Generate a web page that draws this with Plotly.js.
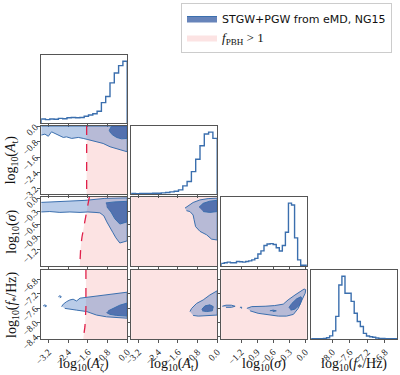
<!DOCTYPE html>
<html><head><meta charset="utf-8">
<script src="https://cdn.plot.ly/plotly-3.0.1.min.js"></script>
<style>html,body{margin:0;padding:0;background:#fff}</style>
</head><body><div id="chart" style="width:400px;height:375px"></div>
<script>
// ---------- axis ranges & ticks ----------
const rangeAc = [-3.5, 0];
const rangeAt = [-3.5, 0];
const rangeSigma = [-1.57, 0.03];
const rangeFstar = [-8.48, -6.52];
const ticksA = [-3.2, -2.4, -1.6, -0.8, 0.0];
const tickTextA = ["−3.2", "−2.4", "−1.6", "−0.8", "0.0"];
const ticksSigma = [-1.2, -0.9, -0.6, -0.3, 0.0];
const tickTextSigma = ["−1.2", "−0.9", "−0.6", "−0.3", "0.0"];
const ticksFstarX = [-8.0, -7.6, -7.2, -6.8];
const tickTextFstarX = ["−8.0", "−7.6", "−7.2", "−6.8"];
const ticksFstarY = [-8.4, -8.0, -7.6, -7.2, -6.8];
const tickTextFstarY = ["−8.4", "−8.0", "−7.6", "−7.2", "−6.8"];

// ---------- axis titles & legend labels ----------
const titleAc = "log<sub>10</sub>(<i>A</i><sub>ζ</sub>)";
const titleAt = "log<sub>10</sub>(<i>A</i><sub>t</sub>)";
const titleSigma = "log<sub>10</sub>(<i>σ</i>)";
const titleFstar = "log<sub>10</sub>(<i>f</i><sub>*</sub>/Hz)";
const legendPosterior = "STGW+PGW from eMD, NG15";
const legendPBH = "<span style=\"font-family:'Liberation Serif',serif;font-size:13px\"><i>f</i><sub>PBH</sub> > 1</span>";

// ---------- 1D histograms (normalised heights) ----------
const histAc = [0.065, 0.054, 0.065, 0.06, 0.075, 0.07, 0.086, 0.09, 0.086, 0.09, 0.11, 0.13, 0.15, 0.19, 0.33, 0.43, 0.65, 0.81, 0.93, 1.0];
const histAt = [0.005, 0.004, 0.006, 0.007, 0.008, 0.009, 0.011, 0.016, 0.022, 0.032, 0.043, 0.065, 0.13, 0.2, 0.36, 0.56, 0.78, 0.97, 1.0, 0.9];
const histSigma = [0.04, 0.05, 0.06, 0.05, 0.05, 0.07, 0.065, 0.06, 0.07, 0.08, 0.095, 0.12, 0.19, 0.24, 0.326, 0.35, 0.355, 0.34, 0.29, 0.237, 0.326, 0.537, 1.0, 0.97, 0.447, 0.095, 0.01, 0.01];
const histFstar = [0.004, 0.004, 0.005, 0.006, 0.008, 0.02, 0.05, 0.13, 0.36, 0.86, 1.0, 0.73, 0.73, 0.6, 0.41, 0.28, 0.2, 0.09, 0.048, 0.035, 0.027, 0.015, 0.01, 0.008, 0.005, 0.004, 0.003, 0.003];

// ---------- 2D credible regions (outer = 2sigma, inner = 1sigma) ----------
// log10(At) vs log10(Ac)
const outerAtAc_x = [-3.5, 0, 0, -0.16, -0.43, -0.7, -0.98, -1.25, -1.52, -1.63, -1.79, -1.99, -2.26, -2.47, -2.6, -2.81, -2.94, -3.08, -3.21, -3.35, -3.5];
const outerAtAc_y = [0, 0, -1.33, -1.27, -1.15, -1.07, -0.9, -0.82, -0.76, -0.69, -0.64, -0.59, -0.64, -0.56, -0.59, -0.47, -0.39, -0.3, -0.53, -0.42, -0.47];
const innerAtAc_x = [-0.635, -0.73, -0.68, -0.6, -0.43, -0.23, 0, 0];
const innerAtAc_y = [0, -0.22, -0.35, -0.45, -0.59, -0.66, -0.64, 0];
// log10(sigma) vs log10(Ac)
const outerSAc_x = [-3.5, -2.94, -2.33, -1.72, -1.31, -0.91, 0, 0, -0.30, -0.46, -0.58, -0.70, -0.83, -0.95, -1.11, -1.31, -1.60, -1.92, -2.33, -2.74, -3.15, -3.5];
const outerSAc_y = [-0.098, -0.086, -0.074, -0.051, -0.028, -0.005, 0.007, -0.99, -1.04, -0.92, -0.80, -0.69, -0.55, -0.41, -0.34, -0.33, -0.32, -0.33, -0.32, -0.33, -0.31, -0.32];
const innerSAc_x = [-0.87, -0.50, 0, 0, -0.30, -0.50, -0.66, -0.83];
const innerSAc_y = [-0.11, -0.086, -0.074, -0.55, -0.60, -0.48, -0.32, -0.20];
// log10(sigma) vs log10(At)
const outerSAt_x = [-1.31, -1.18, -0.98, -0.70, -0.37, 0, 0, -0.23, -0.43, -0.70, -0.88, -0.94, -0.98, -1.11, -1.25];
const outerSAt_y = [-0.23, -0.18, -0.10, -0.04, -0.01, 0.0, -0.97, -0.95, -0.85, -0.77, -0.66, -0.50, -0.39, -0.31, -0.29];
const innerSAt_x = [-0.74, -0.57, -0.30, 0, 0, -0.30, -0.57];
const innerSAt_y = [-0.21, -0.12, -0.07, -0.05, -0.31, -0.33, -0.31];
// log10(f*) vs log10(Ac)
const outerFAc_x = [-2.67, -2.60, -2.47, -2.33, -2.20, -2.06, -1.92, -1.72, -1.52, -1.11, -0.70, -0.30, 0, 0, -0.43, -0.84, -1.25, -1.65, -2.06, -2.33, -2.54];
const outerFAc_y = [-7.56, -7.49, -7.42, -7.37, -7.35, -7.40, -7.32, -7.30, -7.28, -7.26, -7.21, -7.16, -7.15, -7.89, -7.87, -7.85, -7.80, -7.70, -7.66, -7.64, -7.61];
const islandFAc1_x = [-2.80, -2.74, -2.68, -2.74];
const islandFAc1_y = [-7.28, -7.25, -7.28, -7.31];
const islandFAc2_x = [-3.42, -3.35, -3.28, -3.35];
const islandFAc2_y = [-7.54, -7.51, -7.54, -7.57];
const innerFAc_x = [-0.77, -0.57, -0.30, 0, 0, -0.43, -0.70, -0.84];
const innerFAc_y = [-7.68, -7.61, -7.52, -7.46, -7.83, -7.81, -7.78, -7.73];
// log10(f*) vs log10(At)
const outerFAt_x = [-1.11, -1.04, -0.84, -0.57, -0.30, -0.09, 0, 0, -0.23, -0.50, -0.77, -0.98];
const outerFAt_y = [-7.70, -7.61, -7.47, -7.37, -7.23, -7.14, -7.11, -7.80, -7.81, -7.83, -7.83, -7.81];
const innerFAt_x = [-0.63, -0.5, -0.3, -0.16, -0.2, -0.43, -0.61];
const innerFAt_y = [-7.64, -7.54, -7.51, -7.56, -7.68, -7.70, -7.68];
// log10(f*) vs log10(sigma)
const outerFS_x = [-1.09, -1.0, -0.75, -0.57, -0.41, -0.32, -0.19, -0.08, -0.02, 0.01, 0.0, -0.06, -0.13, -0.22, -0.35, -0.50, -0.69, -0.88, -1.03];
const outerFS_y = [-7.61, -7.56, -7.55, -7.53, -7.49, -7.37, -7.23, -7.12, -7.06, -7.08, -7.18, -7.37, -7.61, -7.78, -7.83, -7.83, -7.80, -7.75, -7.68];
const islandFS1_x = [-1.55, -1.48, -1.38, -1.31, -1.38, -1.48];
const islandFS1_y = [-7.55, -7.52, -7.52, -7.55, -7.58, -7.58];
const islandFS2_x = [-1.22, -1.2, -1.18, -1.2];
const islandFS2_y = [-7.59, -7.57, -7.59, -7.61];
const innerFS_x = [-0.305, -0.25, -0.16, -0.08, -0.06, -0.1, -0.19, -0.27];
const innerFS_y = [-7.59, -7.47, -7.34, -7.28, -7.34, -7.51, -7.63, -7.66];
const innerFS2_x = [-0.66, -0.6, -0.54, -0.6];
const innerFS2_y = [-7.68, -7.66, -7.68, -7.70];

// ---------- f_PBH = 1 boundary (dashed) ----------
const pbhAt_ac = [-1.65, -1.65, -1.65];
const pbhAt_at = [0, -1.75, -3.5];
const pbhSigma_ac = [-1.54, -1.62, -1.70, -1.78, -1.84, -1.89, -1.92, -1.93];
const pbhSigma_s = [0.03, -0.20, -0.43, -0.67, -0.90, -1.13, -1.36, -1.57];
const pbhF_ac = [-1.68, -1.68, -1.72, -1.79];
const pbhF_f = [-6.52, -7.6, -8.13, -8.48];

// ---------- styling ----------
const SERIF = "Liberation Serif, DejaVu Serif, serif";
const BLUE = "#3b6fae";
const OUTER_FILL = "rgba(60,115,190,0.36)";
const INNER_FILL = "rgba(45,85,160,0.72)";
const PINK = "rgba(240,128,128,0.22)";
const colDom = [[0.103, 0.318], [0.328, 0.543], [0.553, 0.767], [0.778, 0.993]];
const rowDom = [[0.672, 0.853], [0.483, 0.664], [0.291, 0.475], [0.096, 0.28]];

const params = [
  {range: rangeAc, xt: ticksA, xtt: tickTextA, yt: ticksA, ytt: tickTextA, title: titleAc, hist: histAc},
  {range: rangeAt, xt: ticksA, xtt: tickTextA, yt: ticksA, ytt: tickTextA, title: titleAt, hist: histAt},
  {range: rangeSigma, xt: ticksSigma, xtt: tickTextSigma, yt: ticksSigma, ytt: tickTextSigma, title: titleSigma, hist: histSigma},
  {range: rangeFstar, xt: ticksFstarX, xtt: tickTextFstarX, yt: ticksFstarY, ytt: tickTextFstarY, title: titleFstar, hist: histFstar}
];

const layout = {
  width: 400, height: 375,
  margin: {l: 0, r: 0, t: 0, b: 0, autoexpand: false},
  paper_bgcolor: "#fff", plot_bgcolor: "rgba(0,0,0,0)",
  showlegend: true,
  legend: {x: 0.98, y: 0.992, xanchor: "right", yanchor: "top", bgcolor: "#fff",
           bordercolor: "#cccccc", borderwidth: 1, font: {family: "DejaVu Sans, sans-serif", size: 11, color: "#111"},
           itemwidth: 30, tracegroupgap: 0},
  shapes: [],
  annotations: []
};
const traces = [];
const frame = {showline: true, linecolor: "#555", linewidth: 1, mirror: true, showgrid: false, zeroline: false,
               automargin: false, ticks: "outside", ticklen: 3, tickwidth: 1, tickcolor: "#555",
               tickfont: {family: SERIF, size: 9.5, color: "#222"}};

function poly(xs, ys, fill, ax, opts) {
  traces.push(Object.assign({type: "scatter", mode: "lines", x: xs, y: ys, fill: "toself", fillcolor: fill,
    line: {color: BLUE, width: 1}, xaxis: ax.x, yaxis: ax.y, showlegend: false, hoverinfo: "skip"}, opts || {}));
}

let n = 0;
const axesOf = {};
for (let row = 0; row < 4; row++) {
  for (let col = 0; col <= row; col++) {
    n++;
    const sfx = n === 1 ? "" : String(n);
    const px = params[col], py = params[row];
    const xa = Object.assign({}, frame, {domain: colDom[col], anchor: "y" + sfx, range: px.range,
      tickmode: "array", tickvals: px.xt, ticktext: px.xtt, showticklabels: row === 3, tickangle: -45});
    let ya;
    if (row === col) {
      const m = Math.max.apply(null, px.hist);
      ya = Object.assign({}, frame, {domain: rowDom[row], anchor: "x" + sfx, range: [0, 1.1 * m],
        showticklabels: false, ticks: ""});
      const nb = px.hist.length, w = (px.range[1] - px.range[0]) / nb;
      const hx = [px.range[0]], hy = [0];
      for (let i = 0; i < nb; i++) { hx.push(px.range[0] + i * w); hy.push(px.hist[i]); }
      hx.push(px.range[1]); hy.push(px.hist[nb - 1]);
      hx.push(px.range[1]); hy.push(0);
      traces.push({type: "scatter", mode: "lines", x: hx, y: hy, line: {color: BLUE, width: 1.4, shape: "hv"},
        xaxis: "x" + sfx, yaxis: "y" + sfx, showlegend: false, hoverinfo: "skip"});
    } else {
      ya = Object.assign({}, frame, {domain: rowDom[row], anchor: "x" + sfx, range: py.range,
        tickmode: "array", tickvals: py.yt, ticktext: py.ytt, showticklabels: col === 0, tickangle: -45});
    }
    layout["xaxis" + sfx] = xa;
    layout["yaxis" + sfx] = ya;
    axesOf[row + "," + col] = {x: "x" + sfx, y: "y" + sfx, sfx: sfx};
  }
}

// axis titles as annotations (under the columns / beside the rows)
params.forEach(function (p, i) {
  layout.annotations.push({text: p.title, xref: "paper", yref: "paper",
    x: (colDom[i][0] + colDom[i][1]) / 2, y: 0.027, xanchor: "center", yanchor: "middle",
    showarrow: false, font: {family: SERIF, size: 14, color: "#111"}});
  if (i > 0) layout.annotations.push({text: p.title, xref: "paper", yref: "paper",
    x: 0.031, y: (rowDom[i][0] + rowDom[i][1]) / 2, xanchor: "center", yanchor: "middle", textangle: -90,
    showarrow: false, font: {family: SERIF, size: 14, color: "#111"}});
});

// pink f_PBH > 1 regions
function pinkFromBoundary(bx, by, ax, xmax) {
  const xs = bx.concat([xmax, xmax]);
  const ys = by.concat([by[by.length - 1], by[0]]);
  traces.push({type: "scatter", mode: "lines", x: xs, y: ys, fill: "toself", fillcolor: PINK,
    line: {width: 0, color: "rgba(0,0,0,0)"}, xaxis: ax.x, yaxis: ax.y, hoverinfo: "skip", showlegend: false});
}
function pinkFull(ax) {
  layout.shapes.push({type: "rect", xref: ax.x + " domain", yref: ax.y + " domain", x0: 0, x1: 1, y0: 0, y1: 1,
    fillcolor: PINK, line: {width: 0}, layer: "below"});
}
pinkFromBoundary(pbhAt_ac, pbhAt_at, axesOf["1,0"], rangeAc[1]);
pinkFromBoundary(pbhSigma_ac, pbhSigma_s, axesOf["2,0"], rangeAc[1]);
pinkFromBoundary(pbhF_ac, pbhF_f, axesOf["3,0"], rangeAc[1]);
traces[traces.length - 3].showlegend = true;
traces[traces.length - 3].name = legendPBH;
traces[traces.length - 3].legendrank = 2;
pinkFull(axesOf["2,1"]); pinkFull(axesOf["3,1"]); pinkFull(axesOf["3,2"]);

// contours
let a = axesOf["1,0"];
poly(outerAtAc_x, outerAtAc_y, OUTER_FILL, a);
poly(innerAtAc_x, innerAtAc_y, INNER_FILL, a, {showlegend: true, name: legendPosterior, legendrank: 1});
a = axesOf["2,0"];
poly(outerSAc_x, outerSAc_y, OUTER_FILL, a);
poly(innerSAc_x, innerSAc_y, INNER_FILL, a);
a = axesOf["2,1"];
poly(outerSAt_x, outerSAt_y, OUTER_FILL, a);
poly(innerSAt_x, innerSAt_y, INNER_FILL, a);
a = axesOf["3,0"];
poly(outerFAc_x, outerFAc_y, OUTER_FILL, a);
poly(islandFAc1_x, islandFAc1_y, OUTER_FILL, a);
poly(islandFAc2_x, islandFAc2_y, OUTER_FILL, a);
poly(innerFAc_x, innerFAc_y, INNER_FILL, a);
a = axesOf["3,1"];
poly(outerFAt_x, outerFAt_y, OUTER_FILL, a);
poly(innerFAt_x, innerFAt_y, INNER_FILL, a);
a = axesOf["3,2"];
poly(outerFS_x, outerFS_y, OUTER_FILL, a);
poly(islandFS1_x, islandFS1_y, OUTER_FILL, a);
poly(islandFS2_x, islandFS2_y, OUTER_FILL, a);
poly(innerFS_x, innerFS_y, INNER_FILL, a);
poly(innerFS2_x, innerFS2_y, INNER_FILL, a);

// dashed f_PBH = 1 boundaries
[[pbhAt_ac, pbhAt_at, "1,0"], [pbhSigma_ac, pbhSigma_s, "2,0"], [pbhF_ac, pbhF_f, "3,0"]].forEach(function (d) {
  const ax = axesOf[d[2]];
  traces.push({type: "scatter", mode: "lines", x: d[0], y: d[1], line: {color: "#e0204a", width: 1.3, dash: "dash"},
    xaxis: ax.x, yaxis: ax.y, showlegend: false, hoverinfo: "skip"});
});

Plotly.newPlot("chart", traces, layout, {displayModeBar: false, staticPlot: true});
</script>
</body></html>
